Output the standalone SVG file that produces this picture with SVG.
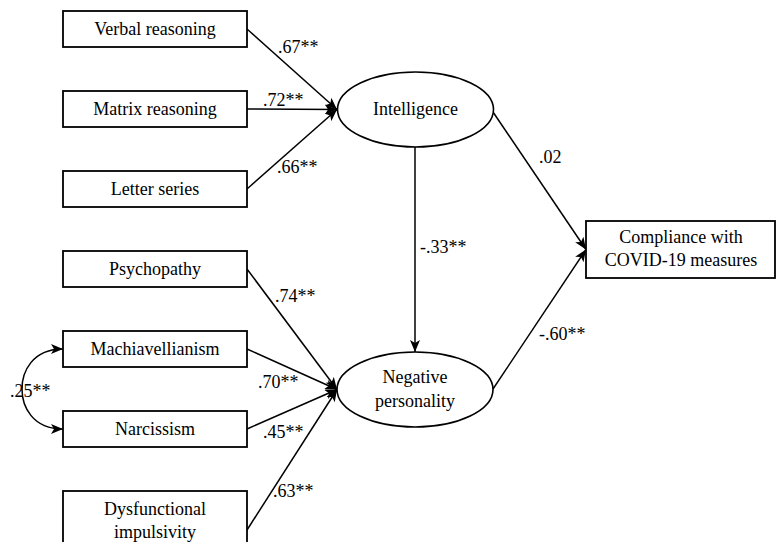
<svg xmlns="http://www.w3.org/2000/svg" width="776" height="542" viewBox="0 0 776 542">
<style>
.box{fill:#fff;stroke:#000;stroke-width:1.8}
.ell{fill:#fff;stroke:#000;stroke-width:1.6}
text{font-family:"Times New Roman","Liberation Serif","DejaVu Serif",serif;font-size:18px;fill:#000}
.c{text-anchor:middle}
.ln{fill:none;stroke:#000;stroke-width:1.5}
</style>
<defs>
<marker id="ah" viewBox="0 0 12 10" refX="12" refY="5" markerWidth="12" markerHeight="10" markerUnits="userSpaceOnUse" orient="auto">
<path d="M0,0 L12,5 L0,10 L3,5 z" fill="#000"/>
</marker>
</defs>
<rect width="776" height="542" fill="#fff"/>
<g id="connectors">
<line class="ln" x1="247" y1="29" x2="337" y2="109.5" marker-end="url(#ah)"/>
<line class="ln" x1="247" y1="109" x2="337" y2="109.5" marker-end="url(#ah)"/>
<line class="ln" x1="247" y1="189" x2="337" y2="109.5" marker-end="url(#ah)"/>
<line class="ln" x1="247" y1="269" x2="337" y2="389.5" marker-end="url(#ah)"/>
<line class="ln" x1="247" y1="349" x2="337" y2="389.5" marker-end="url(#ah)"/>
<line class="ln" x1="247" y1="429" x2="337" y2="389.5" marker-end="url(#ah)"/>
<line class="ln" x1="247" y1="530" x2="337" y2="389.5" marker-end="url(#ah)"/>
<line class="ln" x1="415" y1="147" x2="415" y2="352" marker-end="url(#ah)"/>
<line class="ln" x1="493" y1="112" x2="586" y2="249.5" marker-end="url(#ah)"/>
<line class="ln" x1="493" y1="389" x2="586" y2="249.5" marker-end="url(#ah)"/>
<path class="ln" d="M22,389 C22,372 32,349 63,349" marker-end="url(#ah)"/>
<path class="ln" d="M22,389 C22,406 32,429 63,429" marker-end="url(#ah)"/>
<text x="278" y="53">.67**</text>
<text x="263" y="106">.72**</text>
<text x="277" y="173">.66**</text>
<text x="420" y="253">-.33**</text>
<text x="275" y="302">.74**</text>
<text x="258" y="388">.70**</text>
<text x="263" y="438">.45**</text>
<text x="273" y="497">.63**</text>
<text x="539" y="163">.02</text>
<text x="539" y="340">-.60**</text>
<text x="10" y="397">.25**</text>
</g>
<g id="verbal"><rect class="box" x="63" y="11" width="184" height="36"/><text class="c" x="155" y="35">Verbal reasoning</text></g>
<g id="matrix"><rect class="box" x="63" y="91" width="184" height="36"/><text class="c" x="155" y="115">Matrix reasoning</text></g>
<g id="letter"><rect class="box" x="63" y="171" width="184" height="36"/><text class="c" x="155" y="195">Letter series</text></g>
<g id="psychopathy"><rect class="box" x="63" y="251" width="184" height="36"/><text class="c" x="155" y="275">Psychopathy</text></g>
<g id="machiavellianism"><rect class="box" x="63" y="331" width="184" height="36"/><text class="c" x="155" y="355">Machiavellianism</text></g>
<g id="narcissism"><rect class="box" x="63" y="411" width="184" height="36"/><text class="c" x="155" y="435">Narcissism</text></g>
<g id="dysfunctional"><rect class="box" x="63" y="491" width="184" height="60"/><text class="c" x="155" y="515">Dysfunctional</text><text class="c" x="155" y="538">impulsivity</text></g>
<g id="intelligence"><ellipse class="ell" cx="415.5" cy="109.5" rx="78" ry="37.5"/><text class="c" x="415.5" y="115">Intelligence</text></g>
<g id="negative"><ellipse class="ell" cx="415" cy="389.5" rx="78" ry="37.5"/><text class="c" x="415" y="383">Negative</text><text class="c" x="415" y="407">personality</text></g>
<g id="compliance"><rect class="box" x="586" y="221" width="189" height="57"/><text class="c" x="681" y="243">Compliance with</text><text class="c" x="681" y="266">COVID-19 measures</text></g>
</svg>
